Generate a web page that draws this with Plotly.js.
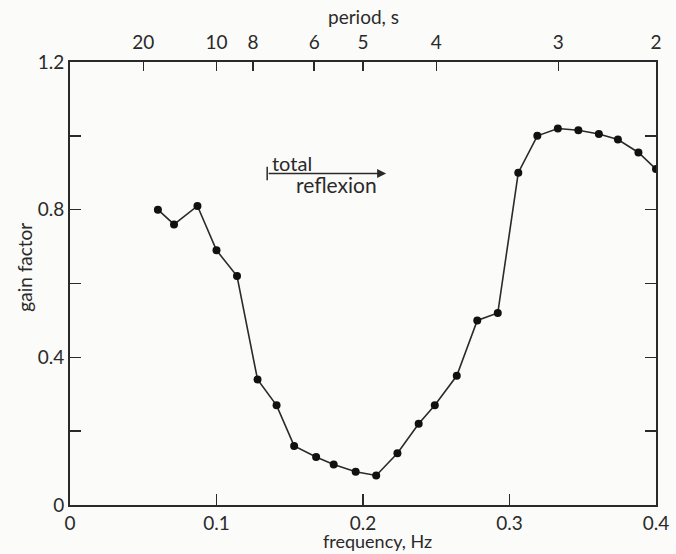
<!DOCTYPE html>
<html>
<head>
<meta charset="utf-8">
<script src="https://cdn.plot.ly/plotly-3.0.1.min.js"></script>
<style>
html,body{margin:0;padding:0;background:#fbfbf9;}
#chart{width:676px;height:554px;}
</style>
</head>
<body>
<div id="chart"></div>
<script>
// Data
const frequency = [0.060, 0.071, 0.087, 0.100, 0.114, 0.128, 0.141, 0.153, 0.168, 0.180, 0.195, 0.209,
                   0.2235, 0.238, 0.249, 0.264, 0.278, 0.292, 0.306, 0.319, 0.333, 0.347, 0.361, 0.374, 0.388, 0.400];
const gainFactor = [0.80, 0.76, 0.81, 0.69, 0.62, 0.34, 0.27, 0.16, 0.13, 0.11, 0.09, 0.08,
                    0.14, 0.22, 0.27, 0.35, 0.50, 0.52, 0.90, 1.00, 1.02, 1.015, 1.005, 0.99, 0.955, 0.91];

const freqTickVals = [0, 0.1, 0.2, 0.3, 0.4];
const freqTickText = ['0', '0.1', '0.2', '0.3', '0.4'];
const periodTickVals = [0.05, 0.1, 0.125, 1/6, 0.2, 0.25, 1/3, 0.4];
const periodTickText = ['20', '10', '8', '6', '5', '4', '3', '2'];
const gainTickVals = [0, 0.2, 0.4, 0.6, 0.8, 1.0, 1.2];
const gainTickText = ['0', '', '0.4', '', '0.8', '', '1.2'];

// "total reflexion" range marker
const reflexionStart = 0.1346;
const reflexionEnd = 0.2158;
const reflexionLevel = 0.898;

const FONT = 'Lato, "Noto Sans", sans-serif';
const INK = '#2a2a2a';
const FS = 19;
const TFS = 19;

const traces = [{
  x: frequency,
  y: gainFactor,
  type: 'scatter',
  mode: 'lines+markers',
  line: {color: INK, width: 1.6},
  marker: {color: '#111', size: 8},
  hoverinfo: 'x+y',
  showlegend: false
}];

const axisCommon = {
  showgrid: false,
  zeroline: false,
  showline: true,
  linecolor: INK,
  linewidth: 2,
  ticks: 'inside',
  tickcolor: INK,
  tickwidth: 1.5,
  tickfont: {family: FONT, size: FS, color: INK},
  fixedrange: true
};

const layout = {
  width: 676,
  height: 554,
  paper_bgcolor: '#fbfbf9',
  plot_bgcolor: '#fbfbf9',
  margin: {l: 70, r: 20, t: 62, b: 49},
  font: {family: FONT, size: FS, color: INK},
  xaxis: Object.assign({}, axisCommon, {
    range: [0, 0.4],
    tickmode: 'array',
    tickvals: freqTickVals,
    ticktext: freqTickText,
    ticklen: 11
  }),
  xaxis2: Object.assign({}, axisCommon, {
    range: [0, 0.4],
    overlaying: 'x',
    side: 'top',
    anchor: 'y',
    tickmode: 'array',
    tickvals: periodTickVals,
    ticktext: periodTickText,
    ticklen: 9,
    ticklabelstandoff: 3
  }),
  yaxis: Object.assign({}, axisCommon, {
    range: [0, 1.2],
    tickmode: 'array',
    tickvals: gainTickVals,
    ticktext: gainTickText,
    ticklen: 11
  }),
  yaxis2: Object.assign({}, axisCommon, {
    range: [0, 1.2],
    overlaying: 'y',
    side: 'right',
    anchor: 'x',
    tickmode: 'array',
    tickvals: gainTickVals,
    showticklabels: false,
    ticklen: 11
  }),
  shapes: [{
    type: 'line', xref: 'x', yref: 'y',
    x0: reflexionStart, x1: reflexionStart,
    y0: reflexionLevel - 0.018, y1: reflexionLevel + 0.018,
    line: {color: INK, width: 1.5}
  }],
  annotations: [
    {
      xref: 'x', yref: 'y', axref: 'x', ayref: 'y',
      x: reflexionEnd, y: reflexionLevel,
      ax: reflexionStart, ay: reflexionLevel,
      text: '', showarrow: true,
      arrowhead: 2, arrowsize: 1.2, arrowwidth: 1.5, arrowcolor: INK
    },
    {
      xref: 'x', yref: 'y', x: 0.1518, y: 0.927,
      xanchor: 'center', yanchor: 'middle',
      text: 'total', showarrow: false,
      font: {family: FONT, size: 20, color: INK}
    },
    {
      xref: 'x', yref: 'y', x: 0.1819, y: 0.867,
      xanchor: 'center', yanchor: 'middle',
      text: 'reflexion', showarrow: false,
      font: {family: FONT, size: 21, color: INK}
    },
    // axis titles
    {
      xref: 'paper', yref: 'paper', x: 0.5005, y: 1.1016,
      xanchor: 'center', yanchor: 'middle',
      text: 'period, s', showarrow: false,
      font: {family: FONT, size: TFS, color: INK}
    },
    {
      xref: 'paper', yref: 'paper', x: 0.524, y: -0.1095,
      xanchor: 'center', yanchor: 'bottom',
      text: 'frequency, Hz', showarrow: false,
      font: {family: FONT, size: 18, color: INK}
    },
    {
      xref: 'paper', yref: 'paper', x: -0.0768, y: 0.538,
      xanchor: 'center', yanchor: 'middle',
      text: 'gain factor', showarrow: false, textangle: -90,
      font: {family: FONT, size: TFS, color: INK}
    }
  ]
};

// Invisible traces so the secondary axes are drawn
traces.push({x: [0.2], y: [0.5], xaxis: 'x2', yaxis: 'y', mode: 'markers', marker: {opacity: 0}, hoverinfo: 'skip', showlegend: false});
traces.push({x: [0.2], y: [0.5], xaxis: 'x', yaxis: 'y2', mode: 'markers', marker: {opacity: 0}, hoverinfo: 'skip', showlegend: false});

Plotly.newPlot('chart', traces, layout, {displayModeBar: false, staticPlot: true});
</script>
</body>
</html>
